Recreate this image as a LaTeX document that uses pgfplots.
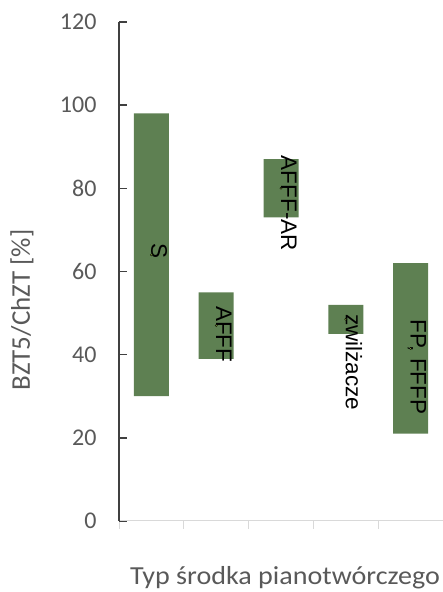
\documentclass[border=0pt]{standalone}
\usepackage{fontspec}
\setmainfont{Carlito}
\newfontfamily\lab{Liberation Sans}
\usepackage{pgfplots}
\usepackage{pgfplotstable}
\pgfplotsset{compat=1.18}
\definecolor{barg}{HTML}{5E8052}
\definecolor{txt}{HTML}{595959}
\definecolor{axdark}{HTML}{404040}
\definecolor{grayline}{HTML}{D9D9D9}
\definecolor{dotc}{HTML}{A8C94A}

\pgfplotstableread{
x low high mid
1 30 98 64
2 39 55 47
3 73 87 80
4 45 52 48.5
5 21 62 41.5
}\datatab

\pgfplotsset{
  common/.style={
    at={(119pt,71pt)}, anchor=south west,
    width=324pt, height=499pt, scale only axis,
    xmin=0.5, xmax=5.5, ymin=0, ymax=120,
    clip=false,
  }
}

\begin{document}
\begin{tikzpicture}[x=1pt,y=1pt]
\path[use as bounding box] (0,0) rectangle (442,592);
\begin{axis}[
  common,
  ytick={0,20,...,120},
  xtick={0.5,1.5,...,5.5}, xticklabels={},
  axis x line*=bottom, axis y line*=left,
  x axis line style={draw=grayline, line width=1pt},
  y axis line style={draw=axdark, line width=1.6pt},
  ytick align=inside, xtick align=outside,
  major tick length=8pt,
  y tick style={draw=axdark, line width=1.6pt},
  x tick style={draw=grayline, line width=1pt},
  yticklabel style={font=\fontsize{24}{24}\selectfont, text=txt, xshift=-19pt},
  /pgf/number format/assume math mode=true,
  ybar stacked, bar width=35pt,
]
\addplot[draw=none, fill=none] table[x=x, y=low]{\datatab};
\addplot[draw=none, fill=barg] table[x=x, y expr=\thisrow{high}-\thisrow{low}]{\datatab};
\end{axis}
\begin{axis}[common, hide axis]
\addplot[only marks, mark=*, mark size=1.1pt, draw=none, fill=dotc] table[x=x, y=mid]{\datatab};
\begin{scope}[every node/.style={rotate=-90, anchor=base, inner sep=0pt, font=\lab\fontsize{22.5}{22.5}\selectfont, text=black}]
\node[xshift=-6pt] at (axis cs:1,63.4) {S};
\node[xshift=-7pt] at (axis cs:2,43.2) {AFFF};
\node[xshift=-7pt] at (axis cs:3,74.7) {AFFF-AR};
\node[xshift=-6pt] at (axis cs:4,36.7) {zwilżacze};
\node[xshift=-3pt] at (axis cs:5,36.3) {FP, FFFP};
\end{scope}
\end{axis}
\node[text=txt, font=\fontsize{26}{26}\selectfont, xscale=1.08] at (285,14) {Typ środka pianotwórczego};
\node[text=txt, font=\fontsize{27}{27}\selectfont, rotate=90] at (22,282) {BZT5/ChZT [\%]};
\end{tikzpicture}
\end{document}
